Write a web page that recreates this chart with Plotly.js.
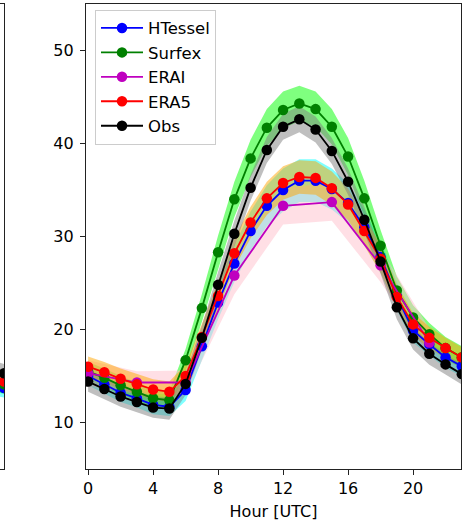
<!DOCTYPE html>
<html><head><meta charset="utf-8">
<script src="https://cdn.plot.ly/plotly-3.0.1.min.js"></script>
<style>html,body{margin:0;padding:0;background:#fff}#chart{width:465px;height:526px}</style>
</head><body><div id="chart"></div>
<script>
// ---- data ----
const hours = [0,1,2,3,4,5,6,7,8,9,10,11,12,13,14,15,16,17,18,19,20,21,22,23];
const htessel = [15.0,14.1,13.2,12.6,11.9,11.7,13.5,18.2,22.9,27.1,30.6,33.3,35.0,36.0,36.0,35.1,33.6,31.0,27.8,23.6,19.9,18.4,17.0,16.05];
const htesselStd = [1.0,1.0,1.0,1.0,1.0,1.0,1.2,1.5,1.8,2.0,2.1,2.2,2.3,2.3,2.3,2.2,2.1,1.9,1.7,1.5,1.3,1.2,1.1,1.1];
const surfex = [15.5,14.8,14.0,13.3,12.6,12.4,16.7,22.3,28.3,34.0,38.4,41.7,43.6,44.3,43.7,41.8,38.6,34.1,29.0,24.2,21.3,19.5,18.0,17.0];
const surfexStd = [1.0,1.0,1.0,1.0,1.0,1.0,1.2,1.5,1.8,1.9,2.0,2.0,2.0,1.9,1.9,1.9,2.0,1.9,1.7,1.5,1.3,1.2,1.2,1.2];
const eraiHours = [0,3,6,9,12,15,18,21];
const erai = [15.3,14.3,14.3,25.8,33.3,33.7,26.9,18.6];
const eraiStd = [1.4,1.2,1.3,2.0,2.0,2.0,1.8,1.5];
const era5 = [16.0,15.4,14.7,14.1,13.55,13.3,15.0,19.2,23.6,28.2,31.5,34.1,35.75,36.4,36.3,35.2,33.45,30.6,27.6,23.5,20.55,19.1,18.0,17.0];
const era5Std = [1.1,1.1,1.1,1.1,1.1,1.1,1.2,1.4,1.5,1.6,1.7,1.8,1.8,1.8,1.8,1.8,1.7,1.6,1.5,1.3,1.2,1.2,1.1,1.1];
const obs = [14.4,13.6,12.8,12.2,11.6,11.5,14.15,19.1,24.8,30.3,35.25,39.3,41.8,42.6,41.5,39.2,35.9,31.8,27.3,22.4,19.05,17.4,16.25,15.2];
const obsStd = [1.1,1.1,1.1,1.1,1.1,1.2,1.2,1.3,1.4,1.4,1.4,1.4,1.4,1.4,1.4,1.4,1.4,1.4,1.3,1.3,1.2,1.2,1.1,1.1];
// neighbouring (left, cut-off) panel: last two hours
const leftHours = [22,23];
const leftHtessel = [13.9,13.7];
const leftSurfex = [14.3,14.1];
const leftEra5 = [14.6,14.4];
const leftObs = [15.6,15.3];
const leftStd = [1.0,1.0];
const xTicks = [0,4,8,12,16,20];
const yTicks = [10,20,30,40,50];
const xTitle = 'Hour [UTC]';

const series = [
  {name:'HTessel', x:hours, y:htessel, s:htesselStd, lx:leftHours, ly:leftHtessel, c:'#0000ff', f:'rgba(0,255,255,0.5)'},
  {name:'Surfex', x:hours, y:surfex, s:surfexStd, lx:leftHours, ly:leftSurfex, c:'#008000', f:'rgba(0,255,0,0.5)'},
  {name:'ERAI', x:eraiHours, y:erai, s:eraiStd, c:'#bf00bf', f:'rgba(255,192,203,0.5)'},
  {name:'ERA5', x:hours, y:era5, s:era5Std, lx:leftHours, ly:leftEra5, c:'#ff0000', f:'rgba(255,165,0,0.5)'},
  {name:'Obs', x:hours, y:obs, s:obsStd, lx:leftHours, ly:leftObs, c:'#000000', f:'rgba(128,128,128,0.5)'}
];

const traces = [];
function band(x, y, s, fill, xa, ya){
  traces.push({x:x, y:y.map((v,i)=>v-s[i]), xaxis:xa, yaxis:ya, mode:'lines', line:{width:0,color:fill}, showlegend:false, hoverinfo:'skip'});
  traces.push({x:x, y:y.map((v,i)=>v+s[i]), xaxis:xa, yaxis:ya, mode:'lines', line:{width:0,color:fill}, fill:'tonexty', fillcolor:fill, showlegend:false, hoverinfo:'skip'});
}
series.forEach(d=>band(d.x,d.y,d.s,d.f,'x','y'));
series.forEach(d=>{ if(d.lx) band(d.lx,d.ly,leftStd,d.f,'x2','y2'); });
series.forEach((d,i)=>{
  traces.push({x:d.x, y:d.y, name:d.name, mode:'lines+markers', xaxis:'x', yaxis:'y',
    line:{color:d.c,width:1.8}, marker:{color:d.c,size:10.5}});
});
series.forEach(d=>{ if(d.lx) traces.push({x:d.lx, y:d.ly, mode:'lines+markers', xaxis:'x2', yaxis:'y2',
    line:{color:d.c,width:1.8}, marker:{color:d.c,size:10.5}, showlegend:false}); });

const W=465, H=526;
const frame = {showline:true, mirror:true, linecolor:'#222', linewidth:1.1, showgrid:false, zeroline:false};
const layout = {
  width:W, height:H,
  margin:{l:0, r:0, t:4.3, b:56.7, pad:0},
  paper_bgcolor:'#fff', plot_bgcolor:'#fff',
  font:{family:'DejaVu Sans', size:16, color:'#000'},
  showlegend:true,
  xaxis:Object.assign({}, frame, {domain:[86/W, 461/W], range:[-0.13, 22.95], tickmode:'array', tickvals:xTicks,
    ticks:'outside', ticklen:5, tickwidth:1, tickcolor:'#222', tickfont:{size:16},
    title:{text:xTitle, font:{size:16}, standoff:8}}),
  yaxis:Object.assign({}, frame, {domain:[0,1], range:[5,55], tickmode:'array', tickvals:yTicks,
    ticks:'outside', ticklen:5, tickwidth:1, tickcolor:'#222', tickfont:{size:16}, ticklabelstandoff:3}),
  xaxis2:Object.assign({}, frame, {domain:[0, 4/W], range:[22.6, 23.0], showticklabels:false, ticks:'', anchor:'y2'}),
  yaxis2:Object.assign({}, frame, {domain:[0,1], range:[5,55], showticklabels:false, ticks:'', anchor:'x2'}),
  legend:{x:95/W, y:1-(10-4.3)/465, xanchor:'left', yanchor:'top', bgcolor:'rgba(255,255,255,0.8)',
    bordercolor:'#cccccc', borderwidth:1, font:{size:16.5}, traceorder:'normal', itemwidth:42}
};
Plotly.newPlot('chart', traces, layout, {staticPlot:true});
</script>
</body></html>
